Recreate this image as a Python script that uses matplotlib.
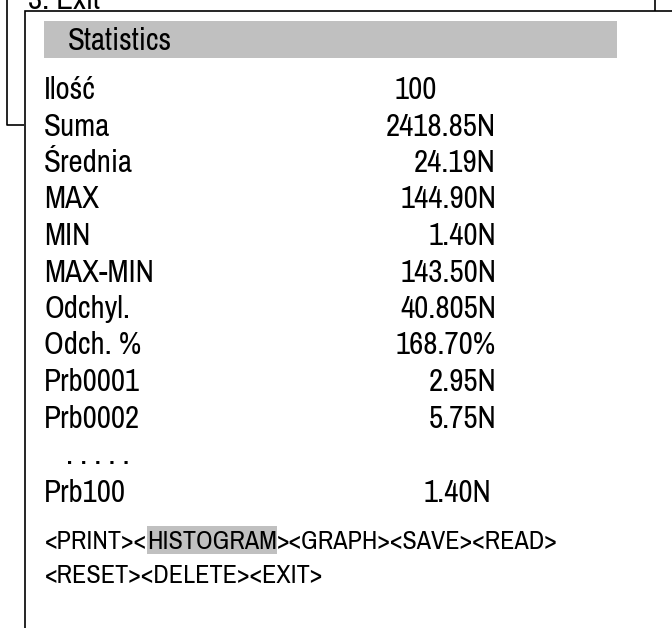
import matplotlib
matplotlib.use("Agg")
import matplotlib.pyplot as plt
from matplotlib.patches import Rectangle
from matplotlib import font_manager

# text content of the statistics window
title = "Statistics"
behind_text = "3. Exit"
labels = ["Ilość", "Suma", "Średnia", "MAX", "MIN", "MAX-MIN",
          "Odchyl.", "Odch. %", "Prb0001", "Prb0002"]
values = ["100", "2418.85N", "24.19N", "144.90N", "1.40N", "143.50N",
          "40.805N", "168.70%", "2.95N", "5.75N"]
last_label = "Prb100"
last_value = "1.40N"
menu_line1 = ["<PRINT><", "HISTOGRAM", "><GRAPH><SAVE><READ>"]
menu_line2 = "<RESET><DELETE><EXIT>"

# narrow font if there is one, otherwise a smaller regular sans
try:
    font_manager.findfont("Archivo Narrow", fallback_to_default=False)
    FAMILY = ["Archivo Narrow", "DejaVu Sans"]
    BIG, SMALL = 22.3, 18.8
except Exception:
    FAMILY = ["Liberation Sans", "DejaVu Sans"]
    BIG, SMALL = 19, 15.6

plt.rcParams['font.family'] = FAMILY
GRAY = "#c0c0c0"

fig = plt.figure(figsize=(6.72, 6.28), dpi=100)
ax = fig.add_axes([0, 0, 1, 1])
ax.set_xlim(0, 672)
ax.set_ylim(628, 0)
ax.axis('off')

lw = 1.2
# window behind
ax.plot([7, 7, 24], [0, 125, 125], color='black', lw=lw, solid_capstyle='butt', zorder=1)
ax.plot([655, 655], [0, 10.5], color='black', lw=lw, zorder=1)
ax.text(28, 9, behind_text, fontsize=BIG, va='baseline', zorder=1)

# front window
ax.add_patch(Rectangle((24.5, 10.5), 700, 700, facecolor='white',
                       edgecolor='black', lw=lw, zorder=2))

# title bar
ax.add_patch(Rectangle((44, 21), 573, 37, facecolor=GRAY, edgecolor='none', zorder=3))
ax.text(68, 50, title, fontsize=BIG, va='baseline', zorder=4)

x_lab = 44
x_val = 496
y0 = 99
step = 36.5
for i, (lab, val) in enumerate(zip(labels, values)):
    y = y0 + i * step
    ax.text(x_lab, y, lab, fontsize=BIG, va='baseline', zorder=4)
    if i == 0:
        ax.text(395, y, val, fontsize=BIG, va='baseline', ha='left', zorder=4)
    else:
        ax.text(x_val, y, val, fontsize=BIG, va='baseline', ha='right', zorder=4)

ax.text(66, y0 + len(labels) * step, ". . . . .", fontsize=BIG, va='baseline', zorder=4)
y_last = y0 + (len(labels) + 1) * step + 1
ax.text(x_lab, y_last, last_label, fontsize=BIG, va='baseline', zorder=4)
ax.text(491, y_last, last_value, fontsize=BIG, va='baseline', ha='right', zorder=4)

# menu lines, the highlighted entry gets a gray box behind it
fig.canvas.draw()
renderer = fig.canvas.get_renderer()
x = 45
y_menu = 549
for k, part in enumerate(menu_line1):
    t = ax.text(x, y_menu, part, fontsize=SMALL, va='baseline', zorder=4)
    bb = t.get_window_extent(renderer=renderer)
    if k == 1:
        ax.add_patch(Rectangle((x, 526), bb.width, 28, facecolor=GRAY,
                               edgecolor='none', zorder=3))
    x = x + bb.width
ax.text(45, y_menu + 34, menu_line2, fontsize=SMALL, va='baseline', zorder=4)

fig.savefig("out.png", dpi=100)
